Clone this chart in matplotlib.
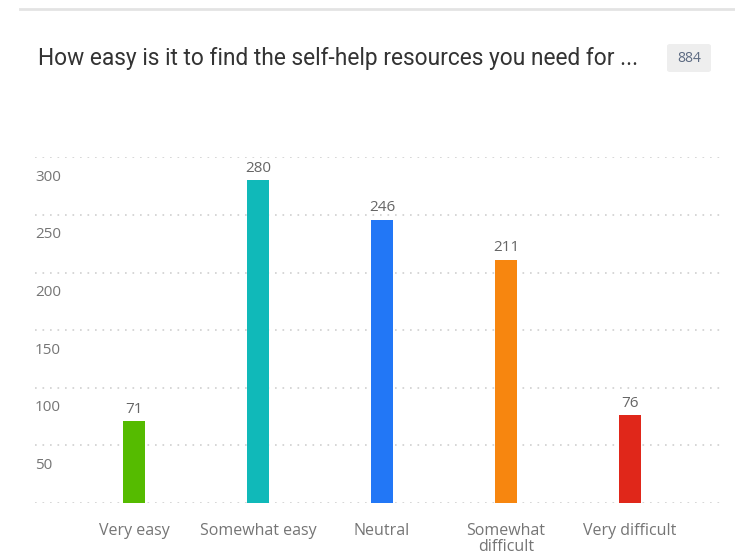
import matplotlib
matplotlib.use("Agg")
import matplotlib.pyplot as plt
from matplotlib.patches import FancyBboxPatch
from matplotlib.transforms import offset_copy, blended_transform_factory

categories = ["Very easy", "Somewhat easy", "Neutral", "Somewhat\ndifficult", "Very difficult"]
counts = [71, 280, 246, 211, 76]
colors = ["#55bb00", "#10b9b9", "#2277f6", "#f7860f", "#e0271a"]
y_ticks = [50, 100, 150, 200, 250, 300]
grid_levels = [0, 50, 100, 150, 200, 250, 300]
title = "How easy is it to find the self-help resources you need for ..."
total = "884"

W, H = 735, 556
fig = plt.figure(figsize=(W / 100, H / 100), dpi=100)
fig.patch.set_facecolor("white")
renderer = fig.canvas.get_renderer()

# top separator line
fig.add_artist(plt.Line2D([20 / W, 1.0], [1 - 9 / H, 1 - 9 / H], color="#e3e3e3", lw=2))

# title, sized to span its column
title_txt = fig.text(38 / W, 1 - 58 / H, title, fontsize=12.5, color="#333333",
                     family=["Roboto", "DejaVu Sans"], va="center", ha="left")
tw = title_txt.get_window_extent(renderer).width
title_txt.set_fontsize(12.5 * 600 / tw)

# response-count badge
fig.add_artist(FancyBboxPatch((667 / W, 1 - 72 / H), 44 / W, 28 / H,
                              boxstyle="round,pad=0,rounding_size=0.004",
                              fc="#eeeeee", ec="none", transform=fig.transFigure))
fig.text(689 / W, 1 - 58.5 / H, total, fontsize=10, color="#5d6b82",
         family=["Open Sans", "DejaVu Sans"], va="center", ha="center")

left, right, top, bottom = 35, 720, 157.3, 503
ax = fig.add_axes([left / W, 1 - bottom / H, (right - left) / W, (bottom - top) / H])
ax.set_ylim(0, 300)
spacing = 124
ax.set_xlim(-(134 - left) / spacing, 4 + (right - 630) / spacing)
ax.axis("off")

# dotted gridlines
for g in grid_levels:
    ax.axhline(g, color="#cfcfcf", lw=1.2, ls=(0, (1, 3.5)), zorder=0)

# y labels sit just below their gridline
trans = blended_transform_factory(ax.transAxes, ax.transData)
lab_trans = offset_copy(trans, fig=fig, x=0, y=-20, units="dots")
for t in y_ticks:
    ax.text(0, t, str(t), transform=lab_trans, ha="left", va="center",
            fontsize=11, color="#757575", family=["Open Sans", "DejaVu Sans"])

x = list(range(len(categories)))
ax.bar(x, counts, width=22 / spacing, color=colors, zorder=2)

val_trans = offset_copy(ax.transData, fig=fig, x=0, y=12, units="dots")
for xi, c in zip(x, counts):
    ax.text(xi, c, str(c), transform=val_trans, ha="center", va="center",
            fontsize=11, color="#666666", family=["Open Sans", "DejaVu Sans"])

cat_trans = offset_copy(ax.transData, fig=fig, x=0, y=-20, units="dots")
for xi, name in zip(x, categories):
    ax.text(xi, 0, name, transform=cat_trans, ha="center", va="top",
            fontsize=11.5, color="#757575", family=["Open Sans", "DejaVu Sans"],
            linespacing=1.0)

fig.savefig("out.png", dpi=100, facecolor="white")
